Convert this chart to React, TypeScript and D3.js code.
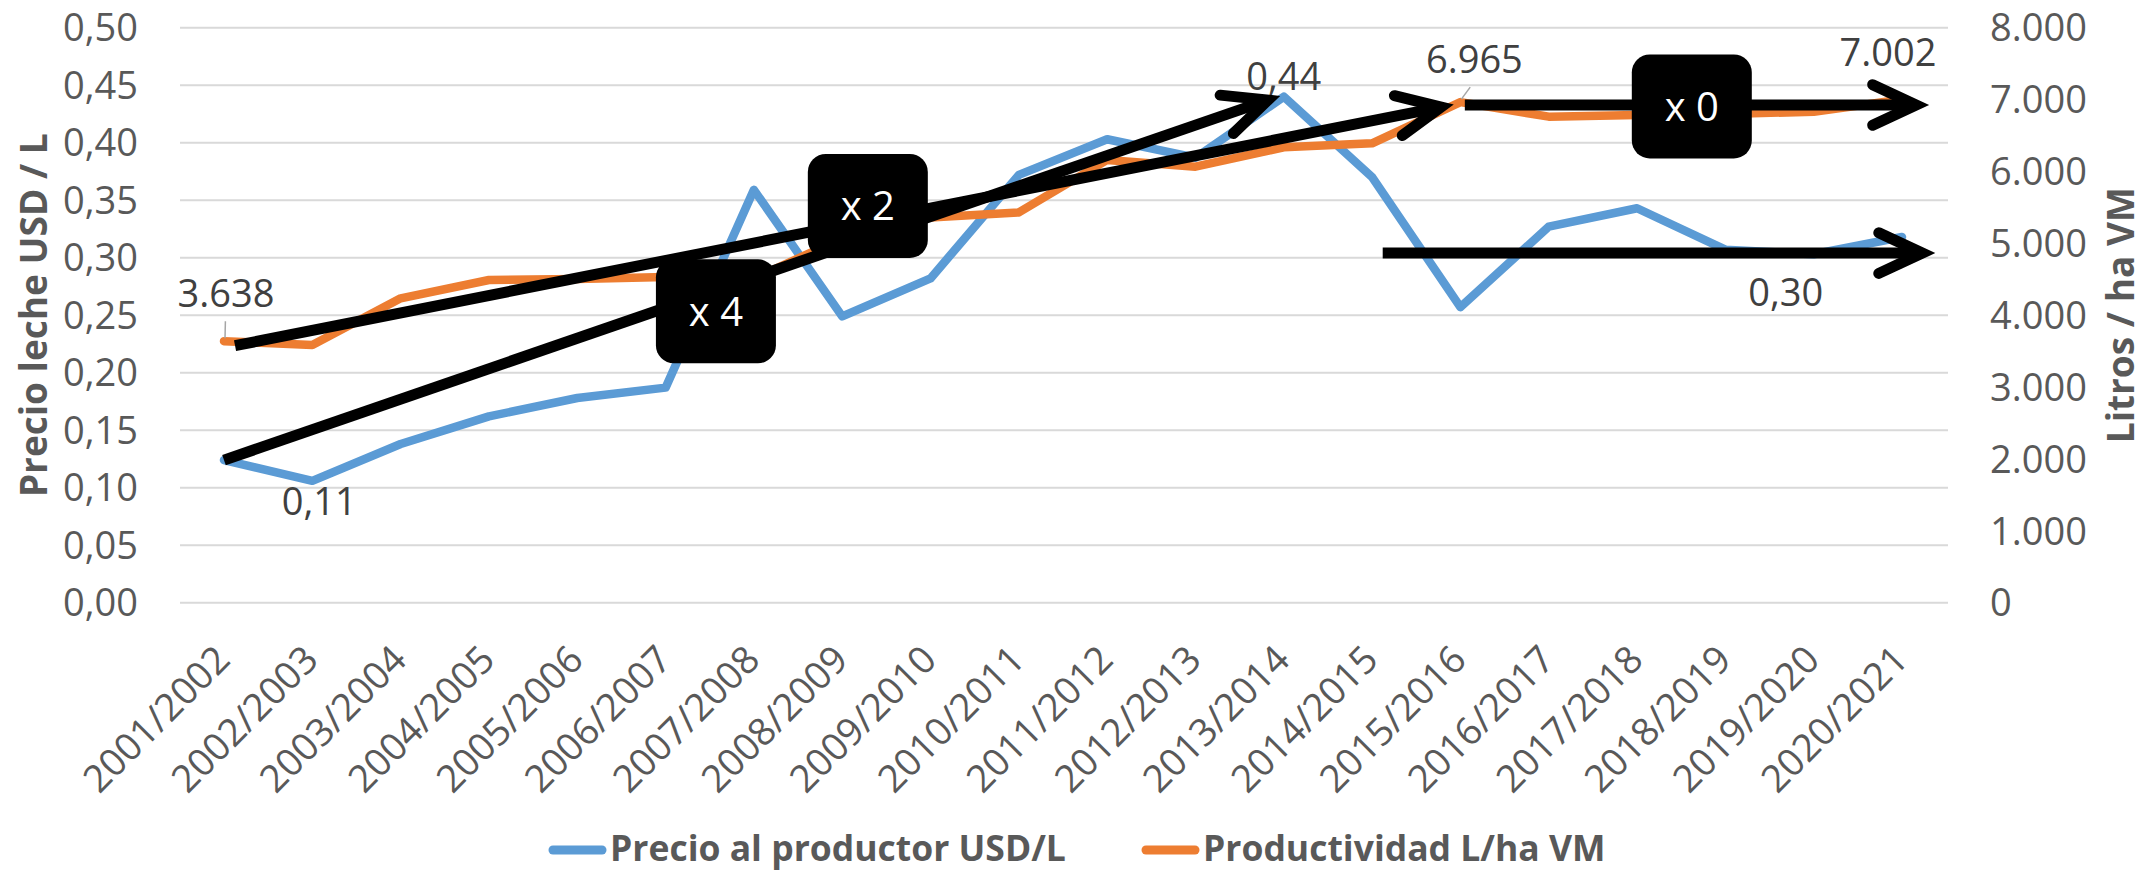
import React from "react";
import * as d3 from "d3";

const categories = [
  "2001/2002", "2002/2003", "2003/2004", "2004/2005", "2005/2006",
  "2006/2007", "2007/2008", "2008/2009", "2009/2010", "2010/2011",
  "2011/2012", "2012/2013", "2013/2014", "2014/2015", "2015/2016",
  "2016/2017", "2017/2018", "2018/2019", "2019/2020", "2020/2021",
];

const priceUSD = [
  0.124, 0.106, 0.138, 0.162, 0.178, 0.187, 0.359, 0.249, 0.282, 0.372,
  0.403, 0.387, 0.44, 0.37, 0.257, 0.327, 0.343, 0.307, 0.303, 0.318,
];

const productivity = [
  3638, 3585, 4235, 4490, 4505, 4530, 4510, 5070, 5360, 5430,
  6160, 6066, 6336, 6392, 6965, 6762, 6785, 6800, 6830, 7002,
];

const leftTicks = [0, 0.05, 0.1, 0.15, 0.2, 0.25, 0.3, 0.35, 0.4, 0.45, 0.5];
const rightTicks = [0, 1000, 2000, 3000, 4000, 5000, 6000, 7000, 8000];

// data labels: series, index, offset
const priceLabels = [
  { i: 1, dx: 7, dy: 34 },
  { i: 12, dx: 0, dy: -7 },
  { i: 18, dx: -28, dy: 52 },
];
const prodLabels = [
  { i: 0, dx: 2, dy: -34, leader: true },
  { i: 14, dx: 14, dy: -29, leader: true },
  { i: 19, dx: -14, dy: -33, leader: false },
];

// annotation arrows in data space (index position along x, value on axis)
const arrows = [
  { axis: "left", x0: 0, v0: 0.124, x1: 11.82, v1: 0.437 },
  { axis: "right", x0: 0.125, v0: 3576, x1: 13.78, v1: 6895 },
  { axis: "right", x0: 14.05, v0: 6925, x1: 19.16, v1: 6925 },
  { axis: "left", x0: 13.12, v0: 0.304, x1: 19.23, v1: 0.304 },
];

const boxes = [
  { text: "x 4", axis: "left", x: 5.57, v: 0.2534 },
  { text: "x 2", axis: "left", x: 7.29, v: 0.345 },
  { text: "x 0", axis: "left", x: 16.62, v: 0.4315 },
];

const legendItems = [
  { label: "Precio al productor USD/L", color: "#5B9BD5" },
  { label: "Productividad L/ha VM", color: "#ED7D31" },
];

const W = 2144;
const H = 872;

const locale = d3.formatLocale({
  decimal: ",",
  thousands: ".",
  grouping: [3],
  currency: ["$", ""],
});
const fmtPrice = locale.format(".2f");
const fmtProd = locale.format(",.0f");

export default function App() {
  const plotTop = 27.7;
  const plotBottom = 602.7;
  const plotLeft = 180;
  const plotRight = 1948;

  const x = d3.scalePoint<string>().domain(categories).range([224, 1902]);
  const xAt = (t: number) => (x(categories[0]) as number) + t * x.step();
  const yL = d3.scaleLinear().domain([0, 0.5]).range([plotBottom, plotTop]);
  const yR = d3.scaleLinear().domain([0, 8000]).range([plotBottom, plotTop]);
  const yOf = (axis: string) => (axis === "left" ? yL : yR);

  const linePrice = d3
    .line<number>()
    .x((_, i) => x(categories[i]) as number)
    .y((d) => yL(d));
  const lineProd = d3
    .line<number>()
    .x((_, i) => x(categories[i]) as number)
    .y((d) => yR(d));

  const tickColor = "#595959";
  const labelColor = "#404040";
  const font = "'Open Sans', 'DejaVu Sans', sans-serif";

  const headLen = 48;
  const headAng = (25 * Math.PI) / 180;

  return (
    <div style={{ position: "absolute", left: 0, top: 0 }}>
      <svg width={W} height={H} viewBox={`0 0 ${W} ${H}`} style={{ display: "block", background: "#fff" }} fontFamily={font}>
        <rect x={0} y={0} width={W} height={H} fill="#fff" />
        {/* gridlines */}
        {leftTicks.map((t) => (
          <line key={"g" + t} x1={plotLeft} x2={plotRight} y1={yL(t)} y2={yL(t)} stroke="#D9D9D9" strokeWidth={2} />
        ))}
        {/* left ticks */}
        {leftTicks.map((t) => (
          <text key={"l" + t} x={138} y={yL(t)} dy="0.36em" textAnchor="end" fontSize={38} fill={tickColor}>
            {fmtPrice(t)}
          </text>
        ))}
        {/* right ticks */}
        {rightTicks.map((t) => (
          <text key={"r" + t} x={1990} y={yR(t)} dy="0.36em" textAnchor="start" fontSize={38} fill={tickColor}>
            {fmtProd(t)}
          </text>
        ))}
        {/* x labels */}
        {categories.map((c) => (
          <text
            key={c}
            transform={`translate(${(x(c) as number) + 8},${662}) rotate(-45)`}
            textAnchor="end"
            fontSize={38}
            fill={tickColor}
          >
            {c}
          </text>
        ))}
        {/* axis titles */}
        <text transform={`translate(47,${(plotTop + plotBottom) / 2}) rotate(-90)`} textAnchor="middle" fontSize={37} fontWeight="bold" fill={tickColor}>
          Precio leche USD / L
        </text>
        <text transform={`translate(2134,${(plotTop + plotBottom) / 2}) rotate(-90)`} textAnchor="middle" fontSize={37} fontWeight="bold" fill={tickColor}>
          Litros / ha VM
        </text>

        {/* series */}
        <path d={linePrice(priceUSD) || ""} fill="none" stroke="#5B9BD5" strokeWidth={8.5} strokeLinejoin="round" strokeLinecap="round" />
        <path d={lineProd(productivity) || ""} fill="none" stroke="#ED7D31" strokeWidth={8.5} strokeLinejoin="round" strokeLinecap="round" />

        {/* data labels */}
        {priceLabels.map((l) => {
          const px = x(categories[l.i]) as number;
          const py = yL(priceUSD[l.i]);
          return (
            <text key={"pl" + l.i} x={px + l.dx} y={py + l.dy} textAnchor="middle" fontSize={38} fill={labelColor}>
              {fmtPrice(priceUSD[l.i])}
            </text>
          );
        })}
        {prodLabels.map((l) => {
          const px = x(categories[l.i]) as number;
          const py = yR(productivity[l.i]);
          return (
            <g key={"ol" + l.i}>
              {l.leader && (
                <line x1={px + l.dx * 0.7} y1={py + l.dy + 14} x2={px + 1} y2={py - 3} stroke="#A6A6A6" strokeWidth={1.5} />
              )}
              <text x={px + l.dx} y={py + l.dy} textAnchor="middle" fontSize={38} fill={labelColor}>
                {fmtProd(productivity[l.i])}
              </text>
            </g>
          );
        })}

        {/* annotation arrows */}
        {arrows.map((a, k) => {
          const ys = yOf(a.axis);
          const sx = xAt(a.x0);
          const sy = ys(a.v0);
          const ex = xAt(a.x1);
          const ey = ys(a.v1);
          const ang = Math.atan2(ey - sy, ex - sx);
          const w1x = ex - headLen * Math.cos(ang - headAng);
          const w1y = ey - headLen * Math.sin(ang - headAng);
          const w2x = ex - headLen * Math.cos(ang + headAng);
          const w2y = ey - headLen * Math.sin(ang + headAng);
          return (
            <g key={"a" + k}>
              <line x1={sx} y1={sy} x2={ex} y2={ey} stroke="#000" strokeWidth={11} strokeLinecap="butt" />
              <path
                d={`M${w1x},${w1y}L${ex},${ey}L${w2x},${w2y}`}
                fill="none"
                stroke="#000"
                strokeWidth={11}
                strokeLinecap="round"
                strokeLinejoin="miter"
                strokeMiterlimit={10}
              />
            </g>
          );
        })}

        {/* boxes */}
        {boxes.map((b) => {
          const cx = xAt(b.x);
          const cy = yOf(b.axis)(b.v);
          return (
            <g key={b.text}>
              <rect x={cx - 60} y={cy - 52} width={120} height={104} rx={18} ry={18} fill="#000" />
              <text x={cx} y={cy} dy="0.36em" textAnchor="middle" fontSize={40} fill="#fff">
                {b.text}
              </text>
            </g>
          );
        })}

        {/* legend */}
        {legendItems.map((it, k) => {
          const lx = k === 0 ? 553 : 1146;
          return (
            <g key={it.label}>
              <line x1={lx} x2={lx + 49} y1={850} y2={850} stroke={it.color} strokeWidth={9} strokeLinecap="round" />
              <text x={lx + 57} y={861} fontSize={35.5} fontWeight="bold" fill={tickColor}>
                {it.label}
              </text>
            </g>
          );
        })}
      </svg>
    </div>
  );
}
